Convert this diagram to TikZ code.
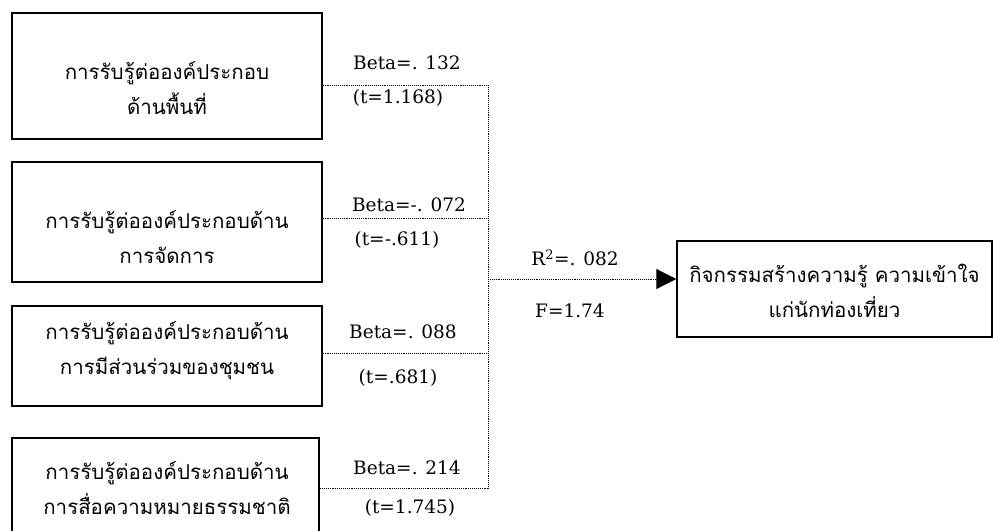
\documentclass[tikz,border=0pt]{standalone}
\usepackage{fontspec}
\newfontfamily\thaifont[Script=Thai]{Loma}
\newfontfamily\numfont{DejaVu Serif}
\usetikzlibrary{arrows.meta}
\begin{document}
\begin{tikzpicture}[x=1pt,y=-1pt,
  box/.style={draw, line width=1.4pt, inner sep=0pt},
  thai/.style={font=\thaifont\fontsize{20.5}{35}\selectfont, align=center, inner sep=0pt},
  stat/.style={font=\numfont\fontsize{18.5}{20}\selectfont, inner sep=0pt},
  link/.style={densely dotted, line width=0.9pt}]
\useasboundingbox (0,0) rectangle (993,530);
% boxes
\node[box, minimum width=310pt, minimum height=126pt] (b1) at (167,76) {};
\node[box, minimum width=310pt, minimum height=120pt] (b2) at (167,222) {};
\node[box, minimum width=310pt, minimum height=100pt] (b3) at (167,356) {};
\node[box, minimum width=307pt, minimum height=96pt] (b4) at (165.5,486) {};
\node[box, minimum width=315pt, minimum height=96pt] (t) at (834.5,289) {};
% box texts
\node[thai] (b1t) at (167,88) {การรับรู้ต่อองค์ประกอบ\\ด้านพื้นที่};
\node[thai] (b2t) at (167,237) {การรับรู้ต่อองค์ประกอบด้าน\\การจัดการ};
\node[thai] (b3t) at (167,351) {การรับรู้ต่อองค์ประกอบด้าน\\การมีส่วนร่วมของชุมชน};
\node[thai] (b4t) at (167,488) {การรับรู้ต่อองค์ประกอบด้าน\\การสื่อความหมายธรรมชาติ};
\node[thai] (tt) at (834.5,291) {กิจกรรมสร้างความรู้ ความเข้าใจ\\แก่นักท่องเที่ยว};
% statistics
\node[stat] (s1a) at (407,63) {Beta=. 132};
\node[stat] (s1b) at (398,98) {(t=1.168)};
\node[stat] (s2a) at (409,205) {Beta=-. 072};
\node[stat] (s2b) at (397,240) {(t=-.611)};
\node[stat] (s3a) at (403,332) {Beta=. 088};
\node[stat] (s3b) at (398,378) {(t=.681)};
\node[stat] (s4a) at (407,468) {Beta=. 214};
\node[stat] (s4b) at (410,508) {(t=1.745)};
\node[stat] (r2) at (575,258) {R\textsuperscript{2}=. 082};
\node[stat] (f) at (570,311) {F=1.74};
% connectors
\coordinate (j1) at (488,85);
\coordinate (j2) at (488,218);
\coordinate (j3) at (488,353);
\coordinate (j4) at (488,488);
\coordinate (jm) at (488,279);
\draw[link] (b1.east |- j1) -- (j1) -- (j4) -- (b4.east |- j4);
\draw[link] (b2.east |- j2) -- (j2);
\draw[link] (b3.east |- j3) -- (j3);
\draw[link, -{Triangle[length=20pt,width=20pt]}] (jm) -- (t.west |- jm);
\end{tikzpicture}
\end{document}
